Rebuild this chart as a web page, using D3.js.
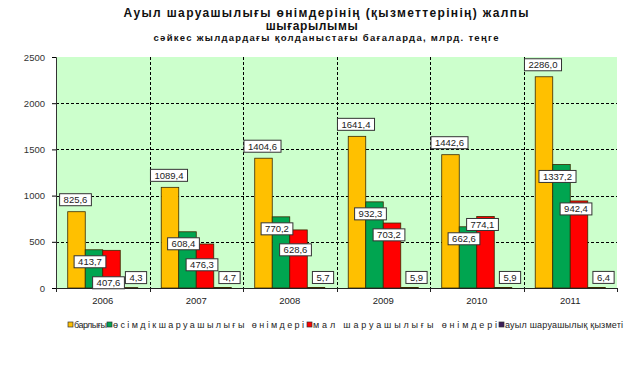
<!DOCTYPE html>
<html><head><meta charset="utf-8">
<script src="https://cdn.jsdelivr.net/npm/d3@7"></script>
<style>body{margin:0;background:#fff}svg{display:block}</style>
</head><body>
<svg id="c" width="637" height="369"></svg>
<script>
const years = ["2006","2007","2008","2009","2010","2011"];
const seriesNames = ["барлығы","өсімдікшаруашылығы өнімдері","мал шаруашылығы өнімдері","ауыл шаруашылық қызметі"];
const total = [825.6,1089.4,1404.6,1641.4,1442.6,2286.0];
const crop = [413.7,608.4,770.2,932.3,662.6,1337.2];
const livestock = [407.6,476.3,628.6,703.2,774.1,942.4];
const services = [4.3,4.7,5.7,5.9,5.9,6.4];
const yTicks = [0,500,1000,1500,2000,2500];
const titleLines = ["Ауыл шаруашылығы  өнімдерінің (қызметтерінің) жалпы","шығарылымы"];
const subtitle = "сәйкес жылдардағы қолданыстағы бағаларда,  млрд. теңге";

const colors = ["#FFC000","#00A550","#FF0000","#3C1E5A"];
const seriesVals = [total,crop,livestock,services];
const FONT = "Liberation Sans, Arial, sans-serif";

const svg = d3.select("#c");
const L=56,R=617,T=57,B=288;
const x = d3.scaleBand().domain(years).range([L,R]).padding(0);
const xs = d3.scaleBand().domain(d3.range(4)).range([0,x.bandwidth()]).paddingInner(0).paddingOuter(0.67);
const y = d3.scaleLinear().domain([0,2500]).range([B,T]);

svg.append("rect").attr("x",L).attr("y",T).attr("width",R-L).attr("height",B-T).attr("fill","#CCFFCC");

// horizontal grid
svg.append("g").selectAll("line").data(yTicks.filter(d=>d>0&&d<2500)).join("line")
 .attr("x1",L).attr("x2",R).attr("y1",d=>Math.round(y(d))+0.5).attr("y2",d=>Math.round(y(d))+0.5)
 .attr("stroke","#000").attr("stroke-dasharray","3,2").attr("stroke-width",1);
// vertical grid
svg.append("g").selectAll("line").data(years.slice(1)).join("line")
 .attr("x1",d=>Math.round(x(d))+0.5).attr("x2",d=>Math.round(x(d))+0.5).attr("y1",T).attr("y2",B)
 .attr("stroke","#000").attr("stroke-dasharray","3,2").attr("stroke-width",1);

// bars
const fmt = v => d3.format(".1f")(v).replace(".",",");
seriesVals.forEach((vals,si)=>{
  svg.append("g").selectAll("rect").data(vals).join("rect")
   .attr("x",(d,i)=>x(years[i])+xs(si))
   .attr("y",d=>y(d))
   .attr("width",xs.bandwidth())
   .attr("height",d=>B-y(d))
   .attr("fill",colors[si]).attr("stroke","#3a2a00").attr("stroke-width",0.8);
});

// axes
const yAxis = d3.axisLeft(y).tickValues(yTicks).tickSize(4).tickFormat(d3.format("d"));
const ga = svg.append("g").attr("transform",`translate(${L},0)`).call(yAxis);
ga.select(".domain").attr("stroke","#333");
ga.selectAll("text").attr("font-family",FONT).attr("font-size",9.5).attr("fill","#333").attr("dx",-4);
const gx = svg.append("g").attr("transform",`translate(0,${B})`);
gx.append("line").attr("x1",L).attr("x2",R).attr("y1",0.5).attr("y2",0.5).attr("stroke","#222");
gx.selectAll("line.t").data(years.concat(["end"])).join("line").attr("class","t")
 .attr("x1",(d,i)=>Math.round(L+i*x.bandwidth())+0.5).attr("x2",(d,i)=>Math.round(L+i*x.bandwidth())+0.5)
 .attr("y1",0).attr("y2",4).attr("stroke","#222");
gx.selectAll("text").data(years).join("text")
 .attr("x",d=>x(d)+x.bandwidth()/2).attr("y",16).attr("text-anchor","middle")
 .attr("font-family",FONT).attr("font-size",9.5).attr("fill","#222").text(d=>d);

// labels
const H=12;
function placeLabel(si, i){
  const cx = x(years[i])+xs(si)+xs.bandwidth()/2;
  const top = y(seriesVals[si][i]);
  if(si===0) return {cx:cx-1, y0:top-6-H};
  if(si===1) return {cx:cx-4, y0:top+6};
  if(si===2){
    const g = placeLabel(1,i);
    const y0 = (top > y(crop[i])) ? Math.max(top+2, g.y0+H+9) : top+2;
    return {cx:cx-3, y0:y0};
  }
  return {cx:cx+7, y0:top-16};
}
const lg = svg.append("g");
seriesVals.forEach((vals,si)=>{
  vals.forEach((d,i)=>{
    const p = placeLabel(si,i);
    const g = lg.append("g");
    const t = g.append("text").attr("x",p.cx).attr("y",p.y0+9.5).attr("text-anchor","middle")
      .attr("font-family",FONT).attr("font-size",9.5).attr("fill","#222").text(fmt(d));
    const w = t.node().getComputedTextLength()+8;
    g.insert("rect","text").attr("x",p.cx-w/2).attr("y",p.y0).attr("width",w).attr("height",H)
      .attr("fill","#fff").attr("stroke","#333").attr("stroke-width",1);
  });
});

// title
const tg = svg.append("g").attr("font-family",FONT).attr("font-weight","bold").attr("fill","#111").attr("text-anchor","middle");
tg.append("text").attr("x",326).attr("y",17).attr("font-size",12)
 .attr("textLength",405).attr("lengthAdjust","spacing").text(titleLines[0]);
tg.append("text").attr("x",312).attr("y",29.5).attr("font-size",12)
 .attr("letter-spacing",0.6).text(titleLines[1]);
tg.append("text").attr("x",326).attr("y",41).attr("font-size",9.5)
 .attr("textLength",345).attr("lengthAdjust","spacing").text(subtitle);

// legend
const legX = [68,107,307,499];
const legW = [33,191,184,118];
const leg = svg.append("g").attr("font-family",FONT).attr("font-size",9);
seriesNames.forEach((n,i)=>{
  leg.append("rect").attr("x",legX[i]).attr("y",322).attr("width",5).attr("height",5)
    .attr("fill",colors[i]).attr("stroke","#333").attr("stroke-width",0.7);
  leg.append("text").attr("x",legX[i]+6).attr("y",328).attr("fill","#222")
    .attr("textLength",legW[i]).attr("lengthAdjust","spacing").text(n);
});
</script>
</body></html>
